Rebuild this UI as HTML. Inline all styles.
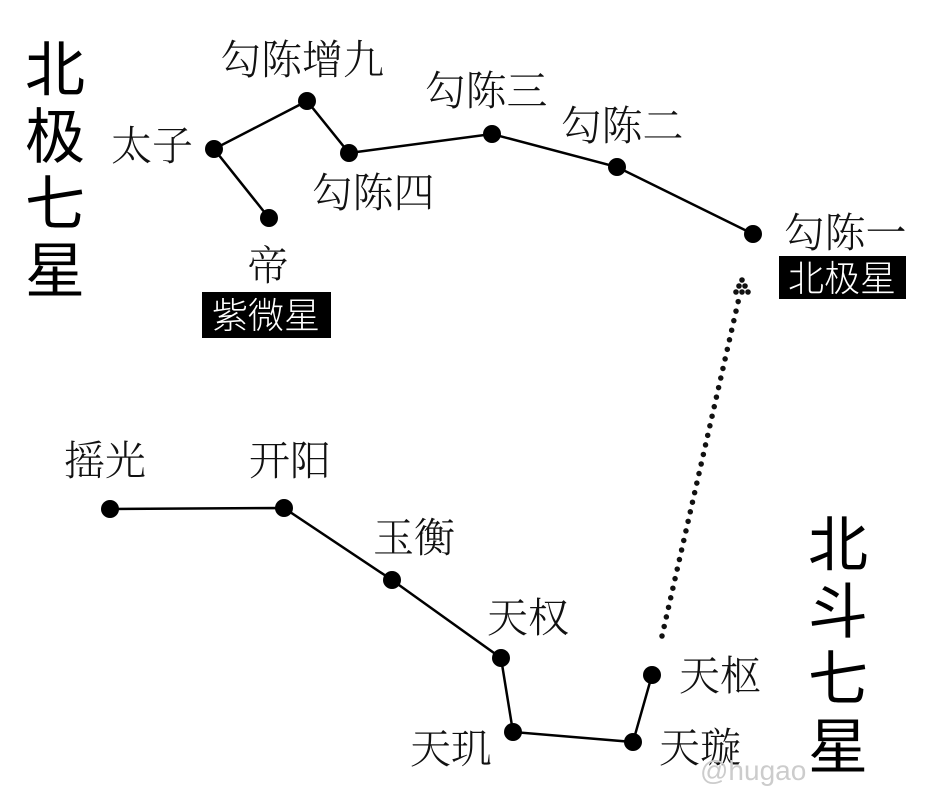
<!DOCTYPE html>
<html><head><meta charset="utf-8"><style>
html,body{margin:0;padding:0;background:#fff;}
svg{display:block;}
.l{font-family:"Noto Serif CJK SC","Noto Serif CJK JP","Noto Serif SC","AR PL UMing CN","Liberation Serif",serif;font-size:41px;fill:#111;text-anchor:middle;font-weight:300;}
.t{font-family:"Noto Sans CJK SC","Liberation Sans",sans-serif;font-size:60px;fill:#000;text-anchor:middle;font-weight:400;}
.b{font-family:"Noto Sans CJK SC","Liberation Sans",sans-serif;font-size:36px;fill:#fff;text-anchor:middle;font-weight:300;}
</style></head><body>
<svg width="937" height="800" viewBox="0 0 937 800" xmlns="http://www.w3.org/2000/svg">
<rect width="937" height="800" fill="#fff"/>
<g stroke="#000" stroke-width="2.5" fill="none">
<polyline points="269,218 214,149 307,101 349,153 492,134 617,167 753,234"/>
<polyline points="110,509 284,508 392,580 501,658 513,732 633,742 652,675"/>
</g>
<line x1="662" y1="636" x2="739" y2="298" stroke="#111" stroke-width="5.5" stroke-linecap="round" stroke-dasharray="0 9.8"/>
<g fill="#111">
<circle cx="742" cy="280" r="2.8"/><circle cx="739" cy="286" r="2.8"/><circle cx="745" cy="286" r="2.8"/>
<circle cx="736" cy="292" r="2.8"/><circle cx="742" cy="292" r="2.8"/><circle cx="748" cy="292" r="2.8"/>
</g>
<g fill="#000">
<circle cx="214" cy="149" r="9"/><circle cx="307" cy="101" r="9"/><circle cx="349" cy="153" r="9"/>
<circle cx="492" cy="134" r="9"/><circle cx="617" cy="167" r="9"/><circle cx="753" cy="234" r="9"/>
<circle cx="269" cy="218" r="9"/>
<circle cx="110" cy="509" r="9"/><circle cx="284" cy="508" r="9"/><circle cx="392" cy="580" r="9"/>
<circle cx="501" cy="658" r="9"/><circle cx="513" cy="732" r="9"/><circle cx="633" cy="742" r="9"/>
<circle cx="652" cy="675" r="9"/>
</g>
<g class="t">
<text x="55" y="91">北</text><text x="55" y="158">极</text><text x="55" y="225">七</text><text x="55" y="292">星</text>
<text x="838" y="566">北</text><text x="838" y="633">斗</text><text x="838" y="700">七</text><text x="838" y="768">星</text>
</g>
<g class="l">
<text x="302" y="74">勾陈增九</text>
<text x="152" y="160">太子</text>
<text x="373" y="207">勾陈四</text>
<text x="486" y="105">勾陈三</text>
<text x="622" y="140">勾陈二</text>
<text x="845" y="247">勾陈一</text>
<text x="268" y="280">帝</text>
<text x="105" y="475">摇光</text>
<text x="290" y="475">开阳</text>
<text x="414" y="552">玉衡</text>
<text x="528" y="632">天权</text>
<text x="451" y="763">天玑</text>
<text x="700" y="762">天璇</text>
<text x="720" y="690">天枢</text>
</g>
<rect x="202" y="292" width="129" height="46" fill="#000"/>
<text class="b" x="266" y="328">紫微星</text>
<rect x="779" y="256" width="127" height="43" fill="#000"/>
<text class="b" x="842" y="291">北极星</text>
<text x="700" y="780" font-family="Liberation Sans,sans-serif" font-size="28" fill="#ccc">@hugao</text>
</svg>
</body></html>
